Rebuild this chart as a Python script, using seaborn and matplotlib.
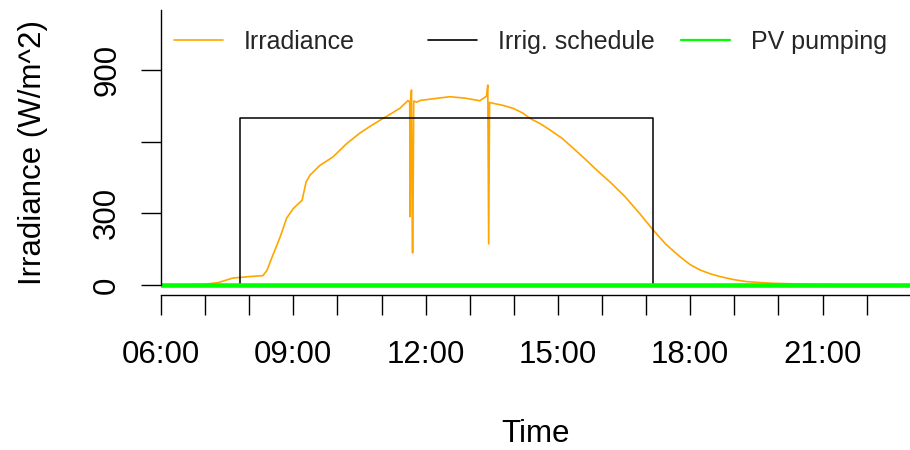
import matplotlib
matplotlib.use("Agg")
import matplotlib.pyplot as plt
import seaborn as sns
import pandas as pd
from matplotlib.lines import Line2D

# ---- data (time in decimal hours) ----
irr_time = [6.0, 6.5, 7.0, 7.3, 7.63, 8.0, 8.31, 8.4, 8.52, 8.7, 8.85, 9.0, 9.2, 9.29,
            9.38, 9.6, 9.9, 10.2, 10.51, 10.75, 10.97, 11.2, 11.42, 11.57, 11.6, 11.64,
            11.65, 11.66, 11.68, 11.69, 11.70, 11.71, 11.73, 11.8, 11.87, 11.94, 12.2,
            12.55, 12.9, 13.23, 13.38, 13.41, 13.43, 13.45, 13.54, 13.75, 13.99, 14.2,
            14.37, 14.6, 14.82, 15.1, 15.35, 15.6, 15.88, 16.2, 16.52, 16.85, 17.16,
            17.45, 17.77, 18.0, 18.22, 18.45, 18.68, 19.0, 19.28, 19.6, 19.88, 20.5,
            21.0, 22.0, 23.5]
irr_value = [0, 0, 3, 10, 29, 35, 39, 60, 117, 200, 280, 320, 355, 431,
             460, 500, 536, 590, 636, 665, 690, 715, 740, 767, 772, 765,
             286, 780, 816, 500, 135, 135, 770, 765, 772, 774, 780,
             788, 782, 771, 790, 837, 172, 764, 760, 752, 739, 720,
             697, 675, 649, 613, 572, 530, 481, 428, 370, 300, 230,
             170, 118, 85, 63, 47, 35, 22, 14, 10, 7, 4,
             2, 0, 0]

sched_time = [6.0, 7.79, 7.79, 17.16, 17.16, 23.5]
sched_value = [0, 0, 700, 700, 0, 0]

pv_time = [6.0, 23.5]
pv_value = [0, 0]

xtick_hours = list(range(6, 23))
xtick_labels = ["06:00", "", "", "09:00", "", "", "12:00", "", "", "15:00", "", "",
                "18:00", "", "", "21:00", ""]
ytick_values = [0, 300, 600, 900]
ytick_labels = ["0", "300", "", "900"]

series_names = ["Irradiance", "Irrig. schedule", "PV pumping"]
series_colors = ["#FFA500", "#000000", "#00FF00"]

# ---- styling ----
sns.set_style("white")
plt.rcParams["font.family"] = ["Liberation Sans", "DejaVu Sans"]

fig = plt.figure(figsize=(9.1, 4.5), dpi=100)
ax = fig.add_axes([161 / 910, 155 / 450, 1 - 161 / 910, 285 / 450])

df_irr = pd.DataFrame({"t": irr_time, "v": irr_value})
df_sched = pd.DataFrame({"t": sched_time, "v": sched_value})
df_pv = pd.DataFrame({"t": pv_time, "v": pv_value})

sns.lineplot(data=df_irr, x="t", y="v", ax=ax, color=series_colors[0], lw=1.2,
             sort=False, estimator=None)
sns.lineplot(data=df_sched, x="t", y="v", ax=ax, color=series_colors[1], lw=1.1,
             sort=False, estimator=None)
sns.lineplot(data=df_pv, x="t", y="v", ax=ax, color=series_colors[2], lw=3.3,
             sort=False, estimator=None)

ax.set_xlim(6, 6 + 749 / 44.1)
ax.set_ylim(-42, 1151)

for s in ["top", "right"]:
    ax.spines[s].set_visible(False)
for s in ["left", "bottom"]:
    ax.spines[s].set_linewidth(1.0)
    ax.spines[s].set_color("black")
ax.spines["left"].set_bounds(0, 1151)

ax.set_xticks(xtick_hours)
ax.set_xticklabels(xtick_labels)
ax.set_yticks(ytick_values)
ax.set_yticklabels(ytick_labels, rotation=90, va="center")

ax.tick_params(axis="both", direction="out", length=14.5, width=1.0, color="black",
               labelsize=22.5, labelcolor="black", bottom=True, left=True)
ax.tick_params(axis="x", pad=18)
ax.tick_params(axis="y", pad=13.5)

ax.set_xlabel("Time", fontsize=22.5, color="black", labelpad=35.5)
ax.set_ylabel("Irradiance (W/m^2)", fontsize=22.5, color="black", labelpad=31.5)

# legend: three equal-width entries (like R horizontal legend)
legend_x = [174 / 910, 428 / 910, 681 / 910]
for name, col, lx, lw in zip(series_names, series_colors, legend_x, [1.2, 1.2, 1.6]):
    h = Line2D([0], [0], color=col, lw=lw)
    leg = fig.legend(handles=[h], labels=[name], loc="center left",
                     bbox_to_anchor=(lx, 1 - 42 / 450), frameon=False,
                     fontsize=18, handlelength=1.95, handletextpad=0.85,
                     borderpad=0, borderaxespad=0)

fig.savefig("out.png", dpi=100)
